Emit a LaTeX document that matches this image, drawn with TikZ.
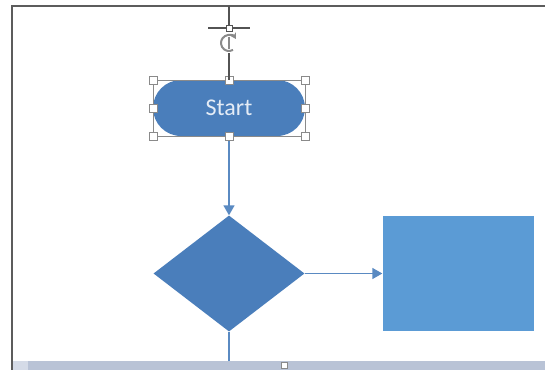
\documentclass[tikz,border=0pt]{standalone}
\usepackage{fontspec}
\setmainfont{Carlito}
\usetikzlibrary{shapes.geometric,arrows.meta}
\definecolor{shapeblue}{HTML}{4A7EBB}
\definecolor{boxblue}{HTML}{5B9BD5}
\definecolor{linkblue}{HTML}{5A8AC2}
\definecolor{framegray}{HTML}{5C5C5C}
\definecolor{handlegray}{HTML}{8A8A8A}
\definecolor{barblue}{HTML}{B9C3D6}
\definecolor{labelwhite}{HTML}{E4ECF6}
\tikzset{
  terminal/.style={draw=none, fill=shapeblue, rounded corners=28pt,
    minimum width=152pt, minimum height=56pt, inner sep=0pt,
    text=labelwhite, font=\fontsize{24}{28}\selectfont},
  decision/.style={diamond, draw=none, fill=shapeblue, inner sep=0pt,
    minimum width=151pt, minimum height=116pt},
  process/.style={rectangle, draw=none, fill=boxblue, inner sep=0pt,
    minimum width=151pt, minimum height=115pt},
  link/.style={draw=linkblue, line width=1.6pt},
  linkarrow/.style={link, -{Triangle[length=10pt,width=11pt]}},
  handle/.style={rectangle, draw=handlegray, fill=white, line width=0.6pt,
    minimum size=8pt, inner sep=0pt},
  selbox/.style={draw=handlegray, line width=0.5pt},
  guide/.style={draw=handlegray!60!black, line width=1.6pt}
}
\begin{document}
\begin{tikzpicture}[x=1pt, y=-1pt]
  % canvas (fixed size; paint reaches past the edges)
  \useasboundingbox (0,0) rectangle (545,369);
  \fill[white] (-5,-5) rectangle (550,374);
  % bottom scroll bar
  \fill[barblue!60!white] (12,361) rectangle (28,374);
  \fill[barblue] (28,361) rectangle (550,374);
  \node[handle, minimum size=6pt] (barhandle) at (284,365) {};
  % page frame
  \draw[framegray, line width=2.6pt] (12,374) -- (12,6) -- (550,6);

  % flowchart shapes
  \node[terminal] (start) at (229,108) {Start};
  \node[decision] (dec) at (229,273.5) {};
  \node[process] (proc) at (458,273.5) {};
  \coordinate (down) at (229,361);

  % connectors
  \draw[linkarrow] (start.south) -- (dec.north);
  \draw[linkarrow] (dec.east) -- (proc.west);
  \draw[link] (dec.south) -- (down);

  % selection outline and handles of the start shape
  \draw[selbox] (start.north west) rectangle (start.south east);
  \foreach \a in {north west,north,north east,west,east,south west,south,south east}
    \node[handle] at (start.\a) {};

  % rotation handle with guide cross
  \coordinate (rot) at (229,28);
  \draw[guide] (229,6) -- (rot);
  \draw[guide] (229,53) -- (start.north);
  \draw[guide] (208,28) -- (250,28);
  \node[handle, minimum size=6pt, draw=handlegray!60!black] (rotknob) at (rot) {};
  % circular rotate glyph
  \draw[handlegray, line width=2pt, -{Stealth[length=6pt,width=7pt]}]
    ([shift={(-60:8pt)}]229,43) arc[start angle=-60, end angle=-330, radius=8pt];
  \draw[handlegray, line width=1.6pt] (229,37) -- (229,49);
\end{tikzpicture}
\end{document}
